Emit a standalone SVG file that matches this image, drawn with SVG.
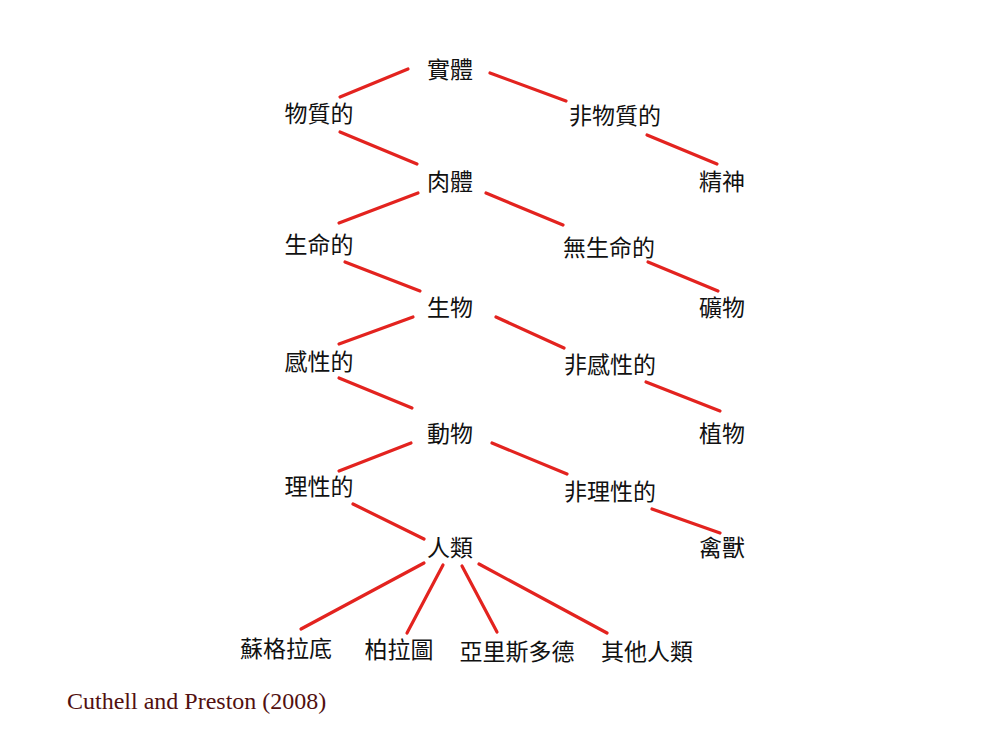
<svg xmlns="http://www.w3.org/2000/svg" width="1008" height="751" viewBox="0 0 1008 751">
<style>
.n{font-family:"Noto Sans CJK TC","Noto Sans CJK SC",sans-serif;font-size:23px;fill:#111;text-anchor:middle}
.c line{stroke:#e3231f;stroke-width:3.2;stroke-linecap:round}
.cite{font-family:"Liberation Serif",serif;font-size:24px;fill:#521010}
</style>
<rect width="1008" height="751" fill="#fff"/>
<g class="c" id="connectors">
<line x1="408" y1="69" x2="340" y2="97"/>
<line x1="490" y1="73" x2="566" y2="101"/>
<line x1="340" y1="132" x2="417" y2="164"/>
<line x1="647" y1="135" x2="717" y2="164"/>
<line x1="418" y1="193" x2="339" y2="223"/>
<line x1="486" y1="193" x2="563" y2="225"/>
<line x1="345" y1="262" x2="420" y2="291"/>
<line x1="648" y1="262" x2="718" y2="291"/>
<line x1="413" y1="317" x2="339" y2="344"/>
<line x1="496" y1="317" x2="564" y2="348"/>
<line x1="339" y1="378" x2="412" y2="408"/>
<line x1="646" y1="382" x2="720" y2="411"/>
<line x1="411" y1="443" x2="339" y2="471"/>
<line x1="492" y1="443" x2="567" y2="474"/>
<line x1="353" y1="504" x2="424" y2="539"/>
<line x1="652" y1="509" x2="720" y2="533"/>
<line x1="424" y1="563" x2="301" y2="629"/>
<line x1="443" y1="565" x2="407" y2="633"/>
<line x1="462" y1="566" x2="497" y2="632"/>
<line x1="479" y1="564" x2="607" y2="633"/>
</g>
<g id="n1"><text class="n" x="450" y="78">實體</text></g>
<g id="n2"><text class="n" x="319" y="122">物質的</text></g>
<g id="n3"><text class="n" x="615" y="124">非物質的</text></g>
<g id="n4"><text class="n" x="450" y="190">肉體</text></g>
<g id="n5"><text class="n" x="722" y="190">精神</text></g>
<g id="n6"><text class="n" x="319" y="253">生命的</text></g>
<g id="n7"><text class="n" x="609" y="256">無生命的</text></g>
<g id="n8"><text class="n" x="450" y="316">生物</text></g>
<g id="n9"><text class="n" x="722" y="316">礦物</text></g>
<g id="n10"><text class="n" x="319" y="370">感性的</text></g>
<g id="n11"><text class="n" x="610" y="373">非感性的</text></g>
<g id="n12"><text class="n" x="450" y="442">動物</text></g>
<g id="n13"><text class="n" x="722" y="442">植物</text></g>
<g id="n14"><text class="n" x="319" y="495">理性的</text></g>
<g id="n15"><text class="n" x="610" y="500">非理性的</text></g>
<g id="n16"><text class="n" x="450" y="556">人類</text></g>
<g id="n17"><text class="n" x="722" y="556">禽獸</text></g>
<g id="n18"><text class="n" x="286" y="657">蘇格拉底</text></g>
<g id="n19"><text class="n" x="399" y="658">柏拉圖</text></g>
<g id="n20"><text class="n" x="517" y="660">亞里斯多德</text></g>
<g id="n21"><text class="n" x="647" y="660">其他人類</text></g>
<text class="cite" x="67" y="709">Cuthell and Preston (2008)</text>
</svg>
